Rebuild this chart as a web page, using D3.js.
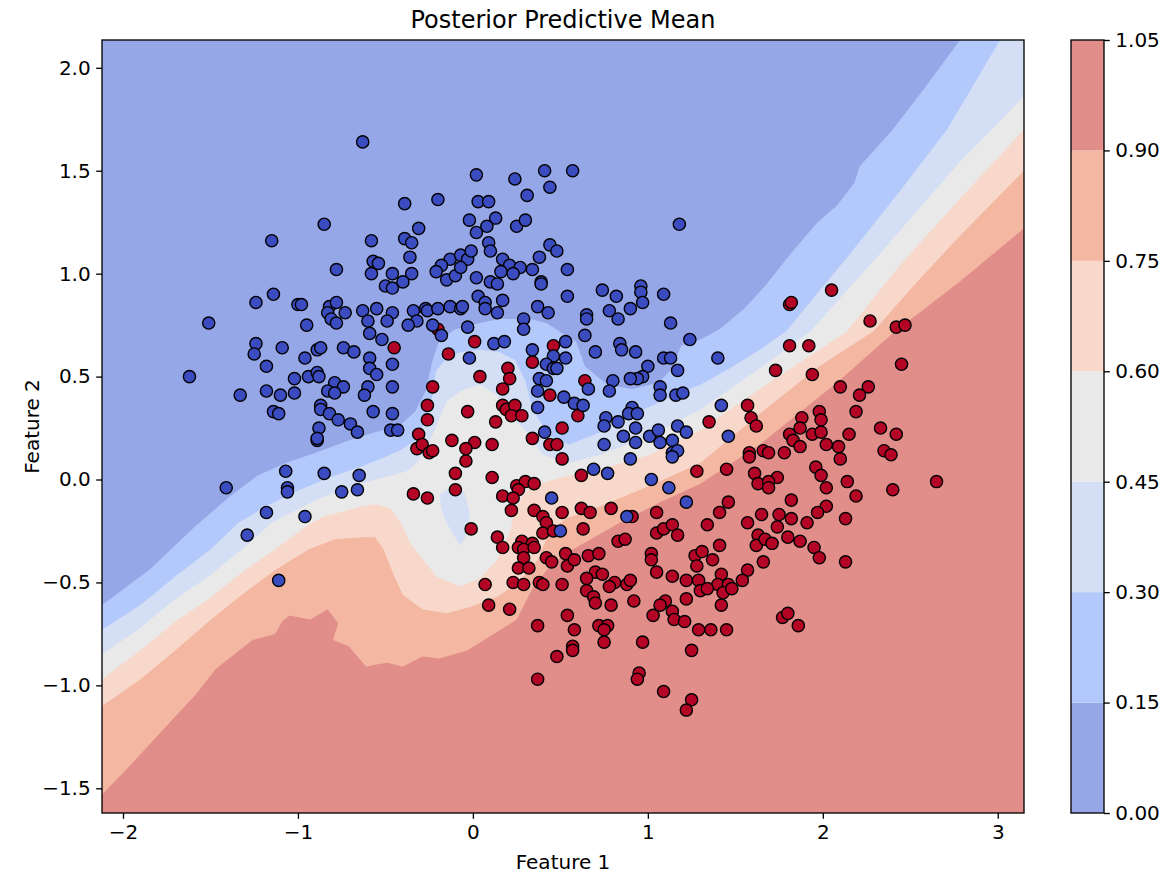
<!DOCTYPE html>
<html>
<head>
<meta charset="utf-8">
<script src="https://cdn.jsdelivr.net/npm/d3@7"></script>
<style>
  body { margin: 0; background: #fff; }
  text { font-family: "DejaVu Sans", sans-serif; }
</style>
</head>
<body>
<svg id="chart" width="1176" height="877"></svg>
<script>
// contour levels and the colours of the filled bands between them
const levels = [0, 0.15, 0.30, 0.45, 0.60, 0.75, 0.90, 1.05];
const bandColors = ["#96a7e8", "#b3c8fb", "#d4dff5", "#e9e9e9", "#f7d8ca", "#f4b7a2", "#e18e8a"];

// iso-lines (feature 1, feature 2); region below/right is above the level
const contour15 = [[-2.2,-0.66],[-2.12,-0.61],[-1.85,-0.44],[-1.59,-0.23],[-1.40,-0.09],[-1.23,0.02],[-1.07,0.08],[-0.90,0.13],[-0.71,0.19],[-0.56,0.23],[-0.42,0.26],[-0.33,0.33],[-0.27,0.43],[-0.23,0.58],[-0.19,0.68],[-0.10,0.73],[0.04,0.76],[0.15,0.78],[0.33,0.78],[0.42,0.76],[0.51,0.71],[0.59,0.67],[0.64,0.55],[0.77,0.46],[0.91,0.44],[1.06,0.47],[1.14,0.54],[1.19,0.65],[1.30,0.68],[1.41,0.73],[1.55,0.83],[1.67,0.94],[1.81,1.09],[1.97,1.25],[2.08,1.33],[2.18,1.44],[2.21,1.52],[2.40,1.70],[2.58,1.90],[2.78,2.13],[2.84,2.2]];
const contour30 = [[-2.2,-0.78],[-2.12,-0.73],[-1.90,-0.61],[-1.70,-0.47],[-1.50,-0.34],[-1.34,-0.21],[-1.16,-0.12],[-0.99,-0.05],[-0.82,0.01],[-0.65,0.06],[-0.53,0.10],[-0.42,0.14],[-0.33,0.19],[-0.27,0.29],[-0.23,0.41],[-0.21,0.53],[-0.15,0.59],[-0.07,0.62],[0.04,0.63],[0.15,0.62],[0.24,0.58],[0.30,0.48],[0.33,0.38],[0.37,0.30],[0.44,0.21],[0.55,0.17],[0.73,0.23],[0.95,0.33],[1.18,0.42],[1.30,0.46],[1.47,0.54],[1.64,0.63],[1.79,0.72],[2.15,1.09],[2.44,1.40],[2.71,1.70],[3.01,2.13],[3.05,2.2]];
const contour45 = [[-2.2,-0.90],[-2.12,-0.85],[-1.90,-0.72],[-1.70,-0.58],[-1.51,-0.47],[-1.32,-0.34],[-1.15,-0.21],[-0.99,-0.14],[-0.87,-0.09],[-0.75,-0.05],[-0.56,0.00],[-0.46,0.02],[-0.38,0.04],[-0.32,0.08],[-0.26,0.16],[-0.21,0.26],[-0.15,0.38],[-0.07,0.43],[0.04,0.46],[0.14,0.41],[0.17,0.35],[0.24,0.29],[0.31,0.23],[0.40,0.12],[0.55,0.08],[0.73,0.12],[1.01,0.21],[1.30,0.34],[1.64,0.54],[1.93,0.72],[2.33,1.10],[2.78,1.54],[3.15,1.86],[3.2,1.91]];
const contour60 = [[-2.2,-1.01],[-2.12,-0.97],[-1.90,-0.83],[-1.70,-0.69],[-1.51,-0.58],[-1.32,-0.45],[-1.13,-0.34],[-1.02,-0.27],[-0.94,-0.22],[-0.85,-0.18],[-0.63,-0.13],[-0.56,-0.12],[-0.47,-0.14],[-0.40,-0.23],[-0.36,-0.31],[-0.30,-0.37],[-0.21,-0.47],[-0.07,-0.52],[0.04,-0.48],[0.14,-0.39],[0.21,-0.26],[0.24,-0.15],[0.30,-0.06],[0.38,-0.02],[0.55,0.02],[0.73,0.05],[1.01,0.12],[1.30,0.24],[1.64,0.44],[2.14,0.72],[2.44,1.04],[2.78,1.36],[3.15,1.70],[3.2,1.76]];
const contour75 = [[-2.2,-1.14],[-2.12,-1.10],[-1.90,-0.97],[-1.70,-0.83],[-1.51,-0.69],[-1.32,-0.56],[-1.13,-0.44],[-0.94,-0.34],[-0.79,-0.29],[-0.63,-0.28],[-0.56,-0.28],[-0.51,-0.34],[-0.45,-0.47],[-0.40,-0.56],[-0.29,-0.63],[-0.15,-0.65],[-0.02,-0.62],[0.14,-0.57],[0.21,-0.53],[0.29,-0.47],[0.37,-0.39],[0.43,-0.27],[0.53,-0.19],[0.73,-0.13],[1.01,-0.03],[1.30,0.08],[1.64,0.32],[1.98,0.55],[2.29,0.72],[2.55,0.97],[2.78,1.18],[3.15,1.50],[3.2,1.54]];
const contour90 = [[-2.2,-1.59],[-2.12,-1.53],[-1.96,-1.39],[-1.70,-1.15],[-1.59,-1.05],[-1.47,-0.92],[-1.26,-0.78],[-1.13,-0.75],[-1.09,-0.69],[-1.05,-0.66],[-0.93,-0.68],[-0.83,-0.63],[-0.77,-0.70],[-0.80,-0.78],[-0.71,-0.81],[-0.61,-0.91],[-0.56,-0.90],[-0.49,-0.89],[-0.40,-0.91],[-0.29,-0.86],[-0.19,-0.87],[-0.03,-0.83],[0.14,-0.74],[0.25,-0.68],[0.34,-0.53],[0.44,-0.42],[0.55,-0.35],[0.84,-0.21],[1.07,-0.11],[1.30,-0.02],[1.64,0.17],[2.08,0.47],[2.40,0.71],[2.78,0.96],[3.15,1.22],[3.2,1.25]];
const contourLines = [contour15, contour30, contour45, contour60, contour75, contour90];

// small pocket below 0.45 inside the grey band
const pocket45 = [[-0.19,-0.07],[-0.13,-0.04],[-0.05,-0.06],[-0.02,-0.15],[-0.02,-0.24],[-0.05,-0.29],[-0.07,-0.32],[-0.11,-0.27],[-0.15,-0.21],[-0.18,-0.14]];

// class 0 (blue) and class 1 (red) samples
const class0 = [[-0.63,1.64],[-0.85,1.24],[-1.15,1.16],[-0.78,1.02],[-0.58,1.16],[-0.57,1.06],[-0.58,1.00],[-1.24,0.86],[-1.14,0.90],[-1.00,0.85],[-0.98,0.85],[-0.82,0.84],[-0.78,0.86],[-0.73,0.81],[-0.83,0.81],[-0.81,0.78],[-0.78,0.76],[-0.63,0.82],[-0.60,0.77],[-1.51,0.76],[-0.95,0.75],[-0.59,0.71],[-1.24,0.66],[-1.25,0.61],[-1.09,0.64],[-0.96,0.59],[-0.89,0.63],[-0.87,0.64],[-0.74,0.64],[-0.68,0.62],[-0.59,0.59],[-0.59,0.54],[-1.62,0.50],[-1.18,0.55],[-1.02,0.49],[-0.94,0.50],[-0.89,0.52],[-0.88,0.50],[-0.79,0.47],[-0.74,0.45],[-0.83,0.43],[-0.79,0.42],[-0.60,0.45],[-0.62,0.41],[-1.33,0.41],[-1.18,0.43],[-1.10,0.41],[-1.02,0.42],[-0.87,0.36],[-0.87,0.34],[-0.82,0.32],[-0.77,0.29],[-0.70,0.27],[-0.66,0.23],[-0.57,0.33],[-1.14,0.33],[-1.11,0.32],[-0.88,0.25],[-0.89,0.19],[-0.89,0.20],[-1.07,0.04],[-0.85,0.03],[-0.65,0.02],[-1.41,-0.04],[-1.06,-0.04],[-1.06,-0.06],[-0.75,-0.06],[-0.66,-0.05],[-1.18,-0.16],[-0.96,-0.18],[-1.29,-0.27],[-1.11,-0.49],
  [0.02,1.48],[0.24,1.46],[0.41,1.50],[0.57,1.50],[0.44,1.42],[0.31,1.38],[-0.39,1.34],[-0.20,1.36],[0.03,1.35],[0.09,1.35],[-0.02,1.26],[0.13,1.27],[0.08,1.23],[0.02,1.20],[0.25,1.23],[0.30,1.26],[-0.31,1.22],[-0.39,1.17],[-0.35,1.15],[-0.36,1.08],[-0.54,1.05],[-0.46,1.00],[-0.35,1.00],[-0.50,0.94],[-0.46,0.93],[-0.40,0.96],[-0.13,1.07],[-0.07,1.09],[-0.03,1.07],[-0.01,1.11],[-0.18,1.04],[-0.21,1.01],[-0.15,0.97],[-0.10,0.99],[-0.07,1.03],[0.09,1.15],[0.10,1.11],[0.17,1.07],[0.21,1.04],[0.27,1.03],[0.34,1.02],[0.38,1.08],[0.44,1.14],[0.48,1.11],[0.02,0.98],[0.16,1.01],[0.23,1.00],[0.10,0.96],[0.14,0.95],[0.39,0.96],[0.39,0.95],[0.54,1.02],[0.54,0.89],[-0.55,0.83],[-0.46,0.81],[-0.49,0.77],[-0.34,0.82],[-0.27,0.83],[-0.26,0.82],[-0.32,0.77],[-0.37,0.75],[-0.20,0.83],[-0.13,0.84],[-0.07,0.83],[-0.06,0.84],[0.03,0.89],[0.07,0.86],[0.07,0.83],[0.17,0.87],[0.14,0.81],[0.37,0.84],[0.43,0.81],[-0.23,0.75],[-0.03,0.74],[0.29,0.78],[0.29,0.73],
  [1.18,1.24],[0.74,0.92],[0.82,0.89],[0.96,0.94],[0.96,0.91],[0.97,0.86],[0.90,0.83],[0.78,0.82],[0.83,0.78],[0.65,0.80],[0.65,0.78],[1.09,0.90],[1.13,0.76],[0.64,0.70],
  [-0.52,0.68],[-0.18,0.70],[-0.02,0.59],[0.12,0.66],[0.18,0.67],[0.34,0.63],[0.53,0.67],[0.46,0.60],[0.53,0.59],[-0.55,0.51],[-0.46,0.56],[0.42,0.56],[0.46,0.54],[0.48,0.54],[0.38,0.49],[0.42,0.48],[0.37,0.43],[0.52,0.40],[-0.46,0.45],[-0.46,0.32],[0.37,0.35],[-0.47,0.24],[-0.43,0.24],[0.41,0.23],[0.45,-0.09],[0.50,-0.25],
  [0.84,0.66],[0.85,0.63],[0.93,0.62],[0.70,0.62],[1.24,0.68],[1.09,0.59],[1.13,0.59],[1.40,0.59],[1.17,0.53],[1.00,0.55],[0.97,0.50],[0.94,0.49],[0.80,0.48],[0.90,0.49],[0.66,0.44],[0.78,0.43],[1.07,0.45],[1.07,0.41],[1.16,0.41],[1.20,0.42],[0.58,0.37],[0.63,0.36],[0.91,0.35],[0.89,0.32],[0.94,0.32],[0.76,0.30],[0.75,0.26],[0.83,0.28],[0.93,0.25],[0.86,0.21],[0.93,0.18],[1.01,0.21],[1.06,0.24],[1.07,0.18],[1.14,0.19],[1.17,0.26],[1.22,0.23],[0.75,0.17],[0.90,0.10],[1.14,0.13],[1.17,0.14],[1.14,0.11],[1.42,0.36],[1.46,0.21],[0.69,0.05],[0.77,0.03],[1.02,0.00],[1.12,-0.04],[1.22,-0.11],[0.88,-0.18]];

const class1 = [[2.05,0.92],[1.81,0.85],[1.82,0.86],[2.27,0.77],[2.42,0.74],[2.47,0.75],
  [-0.20,0.73],[-0.45,0.64],[-0.14,0.61],[0.01,0.67],[0.46,0.65],[0.34,0.57],[0.20,0.54],[0.21,0.49],[0.04,0.50],[0.17,0.44],[0.44,0.41],[-0.23,0.45],[-0.26,0.36],[-0.26,0.29],[-0.03,0.33],[0.17,0.36],[0.19,0.34],[0.24,0.36],[0.13,0.28],[0.22,0.31],[0.28,0.31],[0.51,0.25],[-0.31,0.22],[0.34,0.20],[0.44,0.17],[0.48,0.17],[-0.12,0.19],[0.01,0.18],[-0.04,0.15],[0.11,0.17],[-0.32,0.15],[-0.29,0.17],[-0.25,0.13],[-0.23,0.14],[-0.04,0.09],[0.51,0.10],[-0.10,0.03],[0.11,0.01],[-0.10,-0.05],[0.25,-0.03],[0.30,-0.01],[0.35,-0.02],[0.26,-0.05],[-0.34,-0.07],[-0.26,-0.09],[0.17,-0.08],[0.23,-0.09],[0.22,-0.15],[0.35,-0.15],[0.40,-0.18],[0.51,-0.16],[-0.01,-0.24],[0.42,-0.21],
  [0.14,-0.28],[0.17,-0.33],[0.28,-0.30],[0.34,-0.31],[0.26,-0.33],[0.29,-0.34],[0.35,-0.33],[0.40,-0.26],[0.46,-0.25],[0.42,-0.38],[0.45,-0.40],[0.53,-0.36],[0.54,-0.42],[0.29,-0.38],[0.26,-0.43],[0.32,-0.43],[0.23,-0.50],[0.29,-0.51],[0.38,-0.50],[0.40,-0.51],[0.51,-0.51],[0.07,-0.51],[0.09,-0.61],[0.21,-0.63],[0.37,-0.71],[0.54,-0.66],[0.48,-0.86],[0.37,-0.97],
  [0.63,-0.24],[0.83,-0.30],[0.87,-0.29],[1.05,-0.26],[1.09,-0.24],[1.14,-0.22],[1.17,-0.27],[1.34,-0.22],[1.41,-0.32],[1.57,-0.21],[1.63,-0.27],[1.62,-0.32],[1.66,-0.40],[0.58,-0.39],[0.66,-0.37],[0.72,-0.36],[1.02,-0.36],[1.02,-0.39],[1.27,-0.37],[1.31,-0.35],[1.37,-0.39],[1.28,-0.42],[1.05,-0.45],[1.14,-0.47],[0.70,-0.45],[0.74,-0.46],[0.65,-0.48],[0.65,-0.54],[0.81,-0.50],[0.78,-0.52],[0.88,-0.51],[0.90,-0.49],[1.22,-0.49],[1.29,-0.49],[1.42,-0.46],[1.57,-0.44],[1.54,-0.49],[1.40,-0.51],[1.46,-0.51],[1.43,-0.55],[1.48,-0.53],[1.30,-0.54],[1.34,-0.53],[0.69,-0.57],[0.70,-0.60],[0.79,-0.61],[0.92,-0.59],[1.10,-0.59],[1.07,-0.61],[1.03,-0.66],[1.14,-0.64],[1.15,-0.68],[1.21,-0.69],[1.22,-0.58],[1.42,-0.61],[0.72,-0.71],[0.77,-0.71],[0.75,-0.73],[0.58,-0.73],[1.29,-0.73],[1.36,-0.73],[1.45,-0.73],[0.75,-0.79],[0.97,-0.79],[0.57,-0.81],[0.57,-0.83],[1.25,-0.83],[0.95,-0.94],[0.94,-0.97],[1.09,-1.03],[1.25,-1.07],[1.22,-1.12],
  [0.64,0.48],[0.60,0.31],[1.35,0.28],[1.57,0.36],[1.59,0.30],[1.62,0.26],[0.62,0.02],[1.28,0.04],[1.45,0.05],[1.61,0.03],[1.63,-0.02],[1.58,0.13],[1.58,0.11],[1.66,0.14],[1.46,-0.11],[1.41,-0.16],[0.62,-0.14],[0.67,-0.16],[0.79,-0.14],[0.91,-0.18],[1.05,-0.16],[1.65,-0.17],
  [1.81,0.65],[1.92,0.65],[1.73,0.53],[1.94,0.51],[2.45,0.56],[2.10,0.45],[2.26,0.45],[2.21,0.41],[2.19,0.33],[1.98,0.33],[1.88,0.30],[1.99,0.29],[1.81,0.22],[1.87,0.25],[1.94,0.22],[1.99,0.23],[1.83,0.19],[1.87,0.16],[2.15,0.22],[2.33,0.25],[2.42,0.22],[2.02,0.17],[2.09,0.16],[2.10,0.10],[1.69,0.13],[1.78,0.13],[2.35,0.14],[2.39,0.12],[1.96,0.06],[1.99,0.02],[2.02,-0.04],[1.74,0.01],[1.69,-0.01],[1.69,-0.04],[2.14,-0.01],[2.65,-0.01],[2.40,-0.05],[2.19,-0.08],[1.82,-0.10],[2.02,-0.13],[1.97,-0.16],[1.75,-0.17],[1.82,-0.19],[1.91,-0.21],[2.13,-0.19],
  [1.74,-0.23],[1.80,-0.28],[1.67,-0.29],[1.71,-0.31],[1.87,-0.30],[1.95,-0.33],[1.98,-0.38],[2.13,-0.40],[1.77,-0.67],[1.80,-0.65],[1.86,-0.71]];

const xTicks = [-2, -1, 0, 1, 2, 3];
const yTicks = [-1.5, -1.0, -0.5, 0.0, 0.5, 1.0, 1.5, 2.0];

// === layout ===
const plot = {left: 102, right: 1024, top: 40, bottom: 813};
const cbar = {left: 1071, right: 1104};
const tickFont = 20;

const svg = d3.select('#chart');
const x = d3.scaleLinear().domain([-2.12, 3.15]).range([plot.left, plot.right]);
const y = d3.scaleLinear().domain([-1.62, 2.135]).range([plot.bottom, plot.top]);

svg.append('defs').append('clipPath').attr('id', 'plot-clip')
  .append('rect')
  .attr('x', plot.left).attr('y', plot.top)
  .attr('width', plot.right - plot.left).attr('height', plot.bottom - plot.top);

const field = svg.append('g').attr('clip-path', 'url(#plot-clip)');

// lowest band fills everything, each iso-line then paints the region above it
field.append('rect')
  .attr('x', plot.left).attr('y', plot.top)
  .attr('width', plot.right - plot.left).attr('height', plot.bottom - plot.top)
  .attr('fill', bandColors[0]);

const line = d3.line().x(d => x(d[0])).y(d => y(d[1]));
const closing = [[3.5, 2.5], [3.5, -2.2], [-2.5, -2.2]];

field.selectAll('path.band')
  .data(contourLines)
  .join('path')
  .attr('class', 'band')
  .attr('d', d => line(d.concat(closing)) + 'Z')
  .attr('fill', (d, i) => bandColors[i + 1]);

field.append('path')
  .attr('d', line(pocket45) + 'Z')
  .attr('fill', bandColors[2]);

// scatter
const points = field.append('g');
points.selectAll('circle.c1')
  .data(class1)
  .join('circle')
  .attr('class', 'c1')
  .attr('cx', d => x(d[0]))
  .attr('cy', d => y(d[1]))
  .attr('r', 6.1)
  .attr('fill', '#b40426')
  .attr('stroke', '#000')
  .attr('stroke-width', 1.4);

points.selectAll('circle.c0')
  .data(class0)
  .join('circle')
  .attr('class', 'c0')
  .attr('cx', d => x(d[0]))
  .attr('cy', d => y(d[1]))
  .attr('r', 6.1)
  .attr('fill', '#3b4cc0')
  .attr('stroke', '#000')
  .attr('stroke-width', 1.4);

// axes
const xAxis = svg.append('g')
  .attr('transform', `translate(0,${plot.bottom})`)
  .call(d3.axisBottom(x).tickValues(xTicks).tickFormat(d3.format('d')).tickSize(5.8).tickPadding(6));
const yAxis = svg.append('g')
  .attr('transform', `translate(${plot.left},0)`)
  .call(d3.axisLeft(y).tickValues(yTicks).tickFormat(d3.format('.1f')).tickSize(5.8).tickPadding(5.5));

[xAxis, yAxis].forEach(g => {
  g.select('.domain').remove();
  g.selectAll('.tick line').attr('stroke', '#000').attr('stroke-width', 1.33);
  g.selectAll('.tick text')
    .attr('fill', '#000')
    .style('font-size', tickFont + 'px')
    .style('font-family', '"DejaVu Sans", sans-serif');
});

svg.append('rect')
  .attr('x', plot.left).attr('y', plot.top)
  .attr('width', plot.right - plot.left).attr('height', plot.bottom - plot.top)
  .attr('fill', 'none').attr('stroke', '#000').attr('stroke-width', 1.33);

// labels
svg.append('text')
  .attr('x', (plot.left + plot.right) / 2)
  .attr('y', 28)
  .attr('text-anchor', 'middle')
  .style('font-size', '24px')
  .text('Posterior Predictive Mean');

svg.append('text')
  .attr('x', (plot.left + plot.right) / 2)
  .attr('y', 869)
  .attr('text-anchor', 'middle')
  .style('font-size', tickFont + 'px')
  .text('Feature 1');

svg.append('text')
  .attr('transform', `translate(39,${(plot.top + plot.bottom) / 2}) rotate(-90)`)
  .attr('text-anchor', 'middle')
  .style('font-size', tickFont + 'px')
  .text('Feature 2');

// colorbar
const c = d3.scaleLinear().domain([levels[0], levels[levels.length - 1]]).range([plot.bottom, plot.top]);
const cbarG = svg.append('g');
cbarG.selectAll('rect.cb')
  .data(bandColors)
  .join('rect')
  .attr('class', 'cb')
  .attr('x', cbar.left)
  .attr('y', (d, i) => c(levels[i + 1]))
  .attr('width', cbar.right - cbar.left)
  .attr('height', (d, i) => c(levels[i]) - c(levels[i + 1]))
  .attr('fill', d => d);

cbarG.append('rect')
  .attr('x', cbar.left).attr('y', plot.top)
  .attr('width', cbar.right - cbar.left).attr('height', plot.bottom - plot.top)
  .attr('fill', 'none').attr('stroke', '#000').attr('stroke-width', 1.33);

const cAxis = svg.append('g')
  .attr('transform', `translate(${cbar.right},0)`)
  .call(d3.axisRight(c).tickValues(levels).tickFormat(d3.format('.2f')).tickSize(5.8).tickPadding(5.5));
cAxis.select('.domain').remove();
cAxis.selectAll('.tick line').attr('stroke', '#000').attr('stroke-width', 1.33);
cAxis.selectAll('.tick text')
  .attr('fill', '#000')
  .style('font-size', tickFont + 'px')
  .style('font-family', '"DejaVu Sans", sans-serif');
</script>
</body>
</html>
